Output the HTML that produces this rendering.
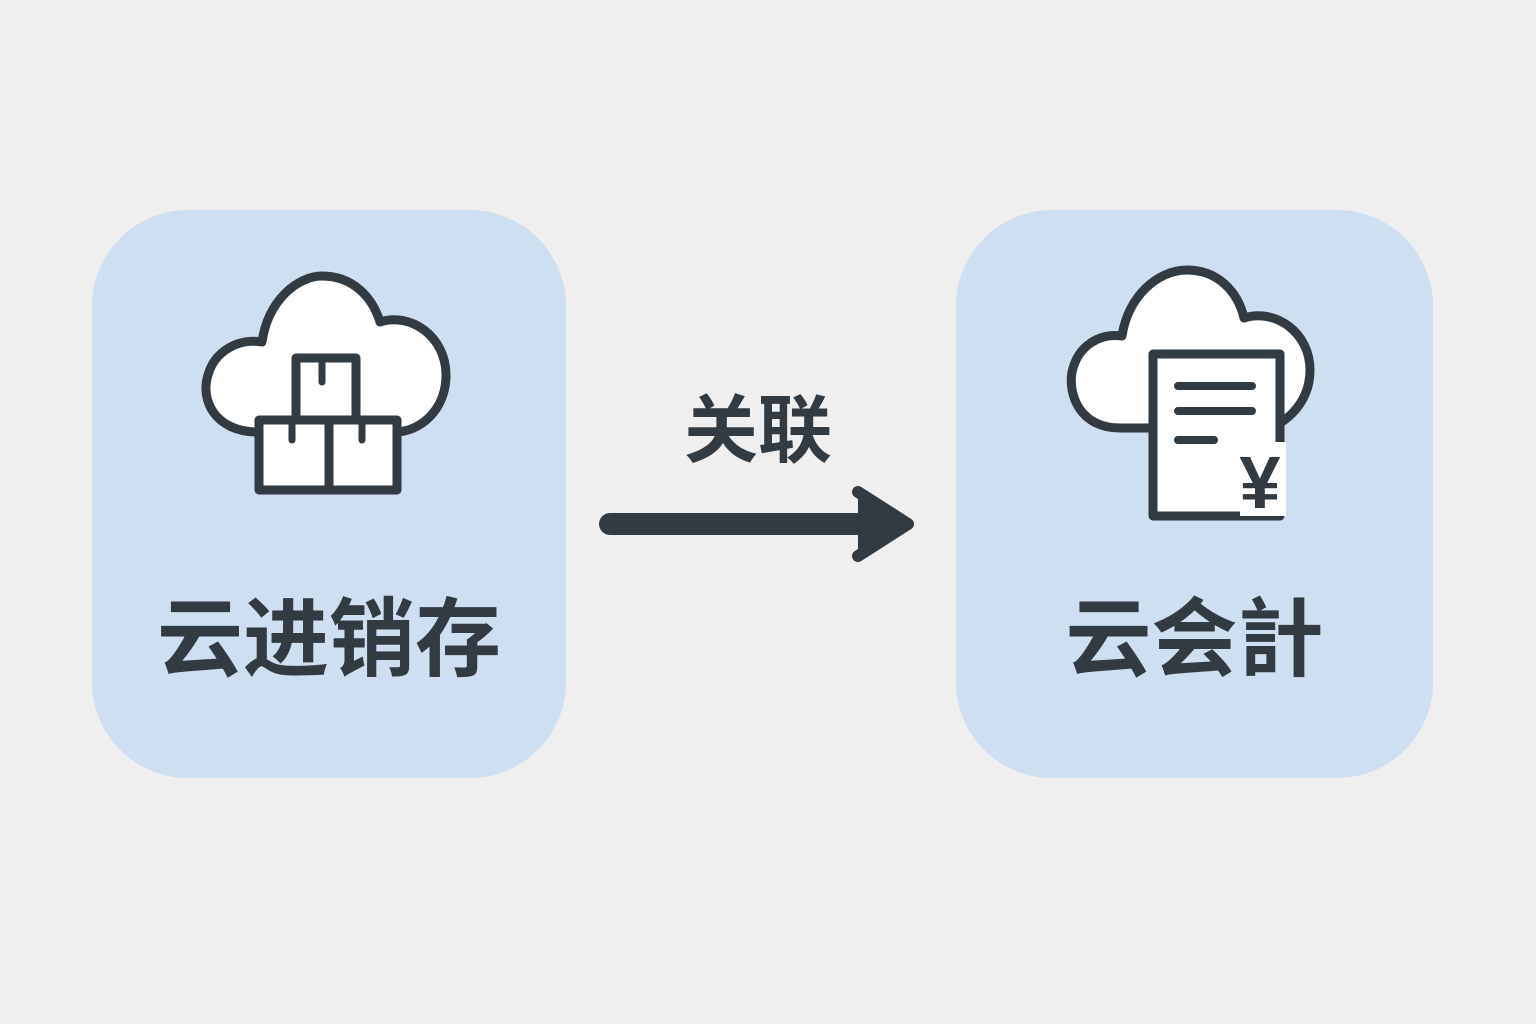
<!DOCTYPE html>
<html><head><meta charset="utf-8"><style>
html,body{margin:0;padding:0;background:#efefef;}
body{width:1536px;height:1024px;position:relative;overflow:hidden;font-family:"Liberation Sans","Noto Sans CJK SC",sans-serif;}
.box{position:absolute;background:#cddff0;border-radius:96px;}
.t{position:absolute;font-weight:700;color:#323a42;text-align:center;white-space:nowrap;}
</style></head><body>
<div class="box" style="left:92px;top:210px;width:474px;height:568px"></div>
<div class="box" style="left:956px;top:210px;width:477px;height:568px"></div>
<svg width="1536" height="1024" style="position:absolute;left:0;top:0">
<g stroke="#323a42" stroke-width="9" fill="#fff" stroke-linejoin="round" stroke-linecap="round">
<path d="M258,432 C215,432 200,400 208,375 C215,350 240,338 262,342 C268,300 298,276 322,276 C352,276 372,296 380,322 C410,312 446,336 446,375 C446,410 420,432 395,432 Z"/>
<rect x="296" y="358" width="60" height="62"/>
<rect x="259" y="420" width="70" height="70"/>
<rect x="329" y="420" width="68" height="70"/>
<path d="M322,362 V382 M292,424 V440 M362,424 V440" fill="none" stroke-width="7"/>
<path d="M1120,428 C1080,428 1068,395 1072,372 C1078,345 1100,333 1122,336 C1128,296 1158,270 1187,270 C1218,270 1238,292 1244,318 C1276,308 1310,333 1310,370 C1310,400 1290,420 1270,428 Z"/>
<rect x="1153" y="354" width="127" height="162" fill="#fff"/>
<path d="M1178,386 H1252 M1178,411 H1252 M1178,440 H1214" fill="none" stroke-width="8"/>
</g>
<rect x="1240" y="442" width="46" height="74" fill="#fff"/>
<text x="1260" y="508" font-size="74" font-weight="700" fill="#323a42" text-anchor="middle" font-family="Liberation Sans,sans-serif">¥</text>
<line x1="610" y1="524" x2="870" y2="524" stroke="#323a42" stroke-width="22" stroke-linecap="round"/>
<path d="M858,492 L908,524 L858,556" fill="#323a42" stroke="#323a42" stroke-width="12" stroke-linejoin="round" stroke-linecap="round"/>
</svg>
<div class="t" style="left:658px;top:386px;width:200px;font-size:74px;line-height:90px">关联</div>
<div class="t" style="left:92px;top:590px;width:474px;font-size:86px;line-height:100px">云进销存</div>
<div class="t" style="left:956px;top:590px;width:477px;font-size:86px;line-height:100px">云会計</div>
</body></html>
